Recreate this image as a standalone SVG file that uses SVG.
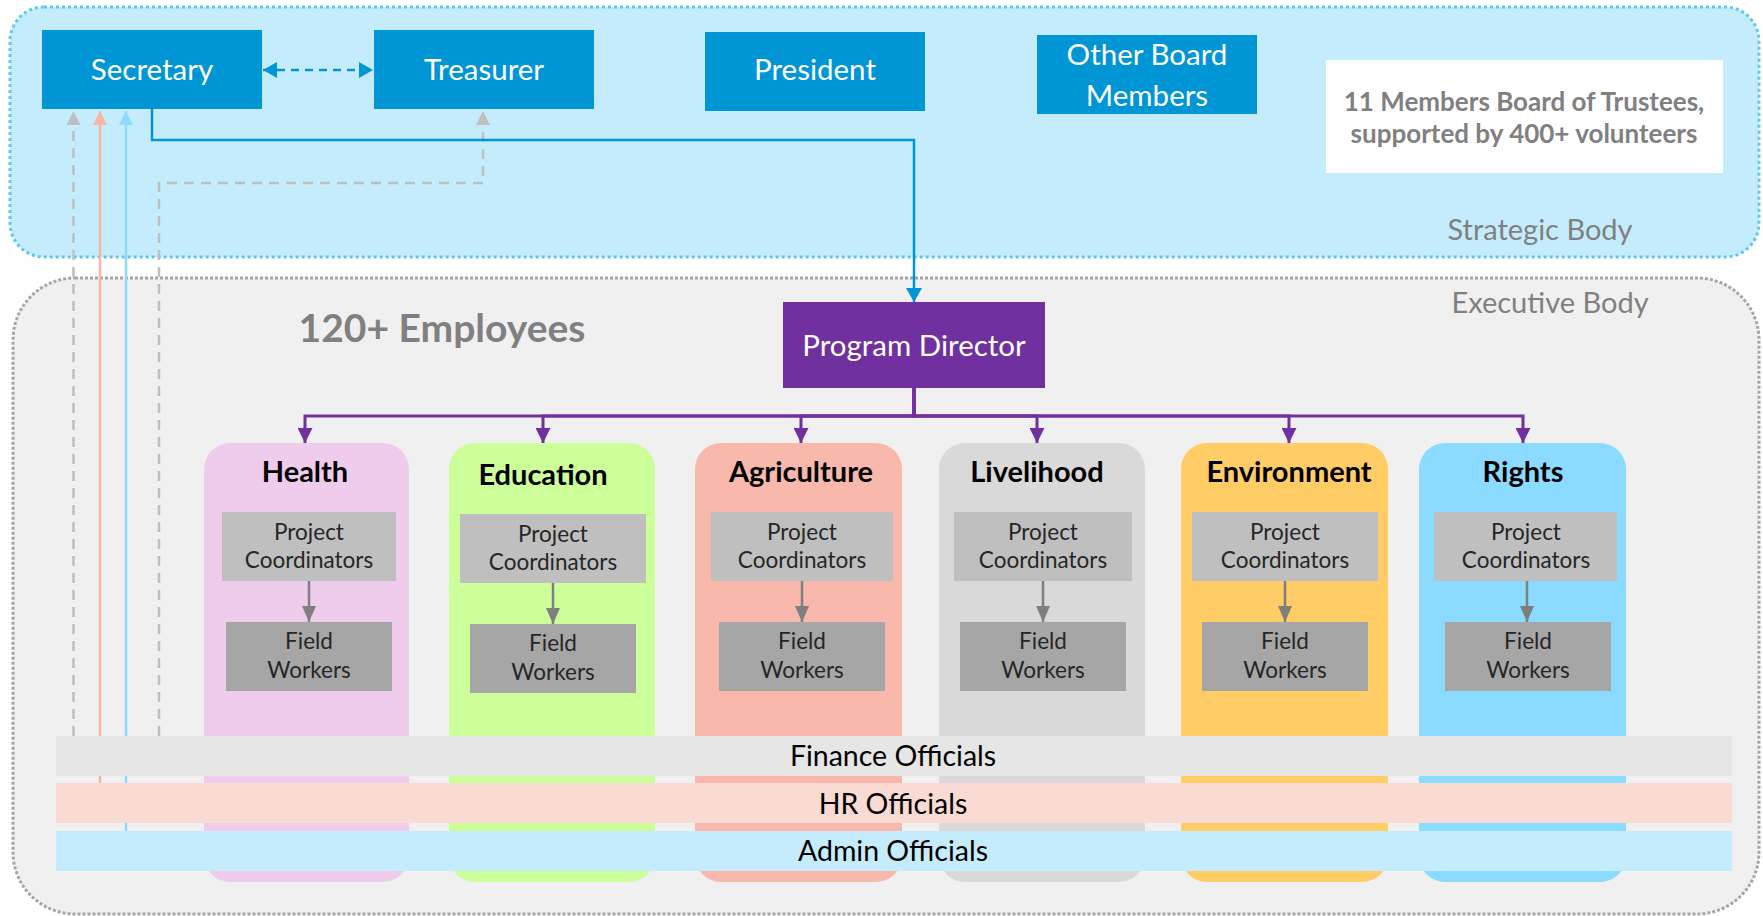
<svg xmlns="http://www.w3.org/2000/svg" width="1763" height="916" viewBox="0 0 1763 916">
<style>
text{font-family:Lato,"Liberation Sans",sans-serif;text-anchor:middle}
.board{fill:#0096D6}
.bt{fill:#fff;font-size:29.5px}
.pc{fill:#BFBFBF}
.fw{fill:#A6A6A6}
.st{fill:#262626;font-size:22.5px}
.title{fill:#000;font-size:29px;font-weight:bold}
.bar{font-size:28.5px;fill:#000}
.gray{fill:#808080}
</style>
<defs>
<marker id="mPurple" viewBox="0 0 16 16" refX="16" refY="8" markerWidth="16" markerHeight="15" markerUnits="userSpaceOnUse" orient="auto"><path d="M0,0L16,8L0,16z" fill="#7030A0"/></marker>
<marker id="mGray" viewBox="0 0 16 14" refX="16" refY="7" markerWidth="16" markerHeight="14" markerUnits="userSpaceOnUse" orient="auto"><path d="M0,0L16,7L0,14z" fill="#7F7F7F"/></marker>
<marker id="mBlue" viewBox="0 0 14 16" refX="14" refY="8" markerWidth="14" markerHeight="16" markerUnits="userSpaceOnUse" orient="auto-start-reverse"><path d="M0,0L14,8L0,16z" fill="#0096D6"/></marker>
<marker id="mLG" viewBox="0 0 14 14" refX="14" refY="7" markerWidth="14" markerHeight="14" markerUnits="userSpaceOnUse" orient="auto"><path d="M0,0L14,7L0,14z" fill="#BFBFBF"/></marker>
<marker id="mSal" viewBox="0 0 14 14" refX="14" refY="7" markerWidth="14" markerHeight="14" markerUnits="userSpaceOnUse" orient="auto"><path d="M0,0L14,7L0,14z" fill="#F8B4A4"/></marker>
<marker id="mLB" viewBox="0 0 14 14" refX="14" refY="7" markerWidth="14" markerHeight="14" markerUnits="userSpaceOnUse" orient="auto"><path d="M0,0L14,7L0,14z" fill="#8ADBFF"/></marker>
</defs>
<rect width="1763" height="916" fill="#fff"/>
<g id="strategic-body">
<rect x="10" y="7" width="1749" height="250" rx="34" fill="#C5ECFC" stroke="#5BC8F5" stroke-width="3" stroke-dasharray="3 3"/>
<text x="1540" y="240" class="gray" font-size="29">Strategic Body</text>
</g>
<g id="executive-body">
<rect x="13" y="278" width="1746" height="636" rx="62" fill="#F0F0F0" stroke="#A6A6A6" stroke-width="3" stroke-dasharray="3 2"/>
<text x="1550" y="313" class="gray" font-size="29">Executive Body</text>
<text x="442" y="342" class="gray" font-size="39" font-weight="bold">120+ Employees</text>
</g>
<g id="connectors" fill="none">
<path d="M73.5,736V111" stroke="#BFBFBF" stroke-width="2.5" stroke-dasharray="10 7" marker-end="url(#mLG)"/>
<path d="M159,736V183H483V111" stroke="#BFBFBF" stroke-width="2.5" stroke-dasharray="10 7" marker-end="url(#mLG)"/>
<path d="M100,783V111" stroke="#F8B4A4" stroke-width="2.5" marker-end="url(#mSal)"/>
<path d="M126,831V111" stroke="#8ADBFF" stroke-width="2.5" marker-end="url(#mLB)"/>
<path d="M152,109V140H914V302" stroke="#0096D6" stroke-width="2.5" marker-end="url(#mBlue)"/>
<path d="M263,70H373" stroke="#0096D6" stroke-width="2.5" stroke-dasharray="8 6" marker-start="url(#mBlue)" marker-end="url(#mBlue)"/>
<g stroke="#7030A0" stroke-width="3">
<path d="M914,388V416H305V443" marker-end="url(#mPurple)"/>
<path d="M914,388V416H543V443" marker-end="url(#mPurple)"/>
<path d="M914,388V416H801V443" marker-end="url(#mPurple)"/>
<path d="M914,388V416H1037V443" marker-end="url(#mPurple)"/>
<path d="M914,388V416H1289V443" marker-end="url(#mPurple)"/>
<path d="M914,388V416H1523V443" marker-end="url(#mPurple)"/>
</g>
</g>
<g id="secretary"><rect class="board" x="42" y="30" width="220" height="79"/><text class="bt" x="152" y="80">Secretary</text></g>
<g id="treasurer"><rect class="board" x="374" y="30" width="220" height="79"/><text class="bt" x="484" y="80">Treasurer</text></g>
<g id="president"><rect class="board" x="705" y="32" width="220" height="79"/><text class="bt" x="815" y="80">President</text></g>
<g id="other-board-members"><rect class="board" x="1037" y="35" width="220" height="79"/><text class="bt" x="1147" y="65">Other Board</text><text class="bt" x="1147" y="106">Members</text></g>
<g id="board-note"><rect x="1326" y="60" width="397" height="113" fill="#fff"/><text x="1524" y="111" class="gray" font-size="26" font-weight="bold">11 Members Board of Trustees,</text><text x="1524" y="143" class="gray" font-size="26" font-weight="bold">supported by 400+ volunteers</text></g>
<g id="program-director"><rect x="783" y="302" width="262" height="86" fill="#7030A0"/><text class="bt" x="914" y="356">Program Director</text></g>

<g id="health">
<rect x="204" y="443" width="205" height="439" rx="26" fill="#EFCCEC"/>
<text class="title" x="305" y="482">Health</text>
<rect class="pc" x="222" y="512" width="174" height="69"/><text class="st" x="309" y="540">Project</text><text class="st" x="309" y="568">Coordinators</text>
<path d="M309,581V622" stroke="#7F7F7F" stroke-width="2.5" marker-end="url(#mGray)"/>
<rect class="fw" x="226" y="622" width="166" height="69"/><text class="st" x="309" y="649">Field</text><text class="st" x="309" y="678">Workers</text>
</g>
<g id="education">
<rect x="449" y="443" width="206" height="439" rx="26" fill="#CCFF99"/>
<text class="title" x="543" y="485">Education</text>
<rect class="pc" x="460" y="514" width="186" height="69"/><text class="st" x="553" y="542">Project</text><text class="st" x="553" y="570">Coordinators</text>
<path d="M553,583V624" stroke="#7F7F7F" stroke-width="2.5" marker-end="url(#mGray)"/>
<rect class="fw" x="470" y="624" width="166" height="69"/><text class="st" x="553" y="651">Field</text><text class="st" x="553" y="680">Workers</text>
</g>
<g id="agriculture">
<rect x="695" y="443" width="207" height="439" rx="26" fill="#F8B9AC"/>
<text class="title" x="801" y="482">Agriculture</text>
<rect class="pc" x="711" y="512" width="182" height="69"/><text class="st" x="802" y="540">Project</text><text class="st" x="802" y="568">Coordinators</text>
<path d="M802,581V622" stroke="#7F7F7F" stroke-width="2.5" marker-end="url(#mGray)"/>
<rect class="fw" x="719" y="622" width="166" height="69"/><text class="st" x="802" y="649">Field</text><text class="st" x="802" y="678">Workers</text>
</g>
<g id="livelihood">
<rect x="939" y="443" width="206" height="439" rx="26" fill="#D9D9D9"/>
<text class="title" x="1037" y="482">Livelihood</text>
<rect class="pc" x="954" y="512" width="178" height="69"/><text class="st" x="1043" y="540">Project</text><text class="st" x="1043" y="568">Coordinators</text>
<path d="M1043,581V622" stroke="#7F7F7F" stroke-width="2.5" marker-end="url(#mGray)"/>
<rect class="fw" x="960" y="622" width="166" height="69"/><text class="st" x="1043" y="649">Field</text><text class="st" x="1043" y="678">Workers</text>
</g>
<g id="environment">
<rect x="1181" y="443" width="207" height="439" rx="26" fill="#FFCC66"/>
<text class="title" x="1289" y="482">Environment</text>
<rect class="pc" x="1192" y="512" width="186" height="69"/><text class="st" x="1285" y="540">Project</text><text class="st" x="1285" y="568">Coordinators</text>
<path d="M1285,581V622" stroke="#7F7F7F" stroke-width="2.5" marker-end="url(#mGray)"/>
<rect class="fw" x="1202" y="622" width="166" height="69"/><text class="st" x="1285" y="649">Field</text><text class="st" x="1285" y="678">Workers</text>
</g>
<g id="rights">
<rect x="1419" y="443" width="207" height="439" rx="26" fill="#8ADBFF"/>
<text class="title" x="1523" y="482">Rights</text>
<rect class="pc" x="1434" y="512" width="183" height="69"/><text class="st" x="1526" y="540">Project</text><text class="st" x="1526" y="568">Coordinators</text>
<path d="M1527,581V622" stroke="#7F7F7F" stroke-width="2.5" marker-end="url(#mGray)"/>
<rect class="fw" x="1445" y="622" width="166" height="69"/><text class="st" x="1528" y="649">Field</text><text class="st" x="1528" y="678">Workers</text>
</g>
<g id="finance-officials"><rect x="56" y="736" width="1676" height="40" fill="#E7E6E6"/><text class="bar" x="893" y="766">Finance Officials</text></g>
<g id="hr-officials"><rect x="56" y="783" width="1676" height="40" fill="#FADBD4"/><text class="bar" x="893" y="814">HR Officials</text></g>
<g id="admin-officials"><rect x="56" y="831" width="1676" height="40" fill="#C5ECFC"/><text class="bar" x="893" y="861">Admin Officials</text></g>
</svg>
